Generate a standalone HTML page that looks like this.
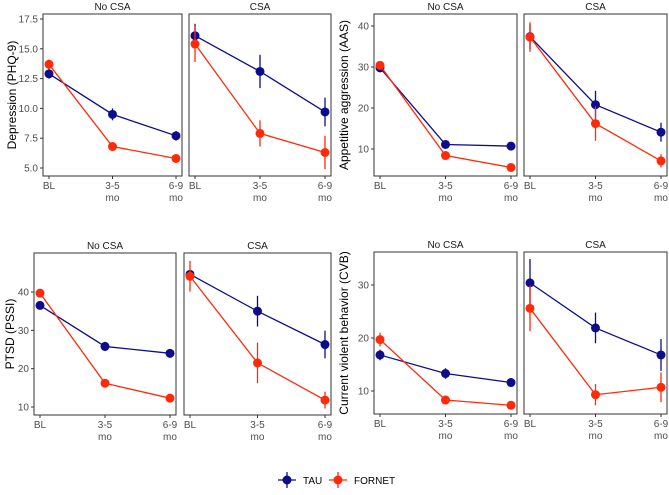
<!DOCTYPE html>
<html><head><meta charset="utf-8"><style>
body{margin:0;background:#fff;}
svg{font-family:"Liberation Sans",sans-serif;}
</style></head><body>
<svg id="s" width="669" height="490"></svg>
<script>
const timepoints=["BL","3-5 mo","6-9 mo"];
const facets=["No CSA","CSA"];
// [chart][facet] values
const tauMean=[[[12.9,9.5,7.7],[16.1,13.1,9.7]],[[29.8,11.1,10.7],[37.4,20.8,14.1]],[[36.5,25.8,24.0],[44.6,35.0,26.3]],[[16.8,13.3,11.6],[30.4,21.9,16.8]]];
const tauErr=[[[0.4,0.5,0.4],[1.0,1.4,1.2]],[[0.6,0.5,0.5],[3.0,3.4,2.3]],[[0.8,1.2,1.1],[0.8,4.0,3.6]],[[1.0,1.0,0.8],[4.5,2.9,3.0]]];
const fornetMean=[[[13.7,6.8,5.8],[15.4,7.9,6.3]],[[30.4,8.4,5.5],[37.3,16.2,7.1]],[[39.7,16.2,12.3],[44.1,21.5,11.8]],[[19.7,8.3,7.3],[25.6,9.3,10.7]]];
const fornetErr=[[[0.4,0.3,0.2],[1.5,1.1,1.4]],[[0.6,0.5,0.4],[3.6,4.2,1.6]],[[0.6,0.6,0.6],[4.0,5.3,2.2]],[[1.3,0.5,0.4],[4.3,2.0,2.8]]];
const yTicks=[[5,7.5,10,12.5,15,17.5],[10,20,30,40],[10,20,30,40],[10,20,30]];
const yTickLabels=[["5.0","7.5","10.0","12.5","15.0","17.5"],["10","20","30","40"],["10","20","30","40"],["10","20","30"]];
const yTitles=["Depression (PHQ-9)","Appetitive aggression (AAS)","PTSD (PSSI)","Current violent behavior (CVB)"];
const chartNames=["depression","aggression","ptsd","violence"];
// layout
const L=[
 {p:[[43,182],[189,331]],top:14,bot:176,v0:5,y0:168,v1:17.5,y1:19,tx:12},
 {p:[[374,517],[524,667]],top:14,bot:176,v0:10,y0:149,v1:40,y1:26,tx:344},
 {p:[[34,176],[184,331]],top:253,bot:415,v0:10,y0:407,v1:40,y1:292,tx:10},
 {p:[[374,517],[524,667]],top:252,bot:414,v0:10,y0:391,v1:30,y1:285,tx:344}
];
const NS="http://www.w3.org/2000/svg";
const svg=document.getElementById('s');
function mk(t,a,par){const e=document.createElementNS(NS,t);for(const k in a)e.setAttribute(k,a[k]);(par||svg).appendChild(e);return e;}
const TAU="#0d0d8c",FOR="#ff2a0a";
for(let c=0;c<4;c++){
 const g=L[c];
 const yS=v=>g.y0+(v-g.v0)*(g.y1-g.y0)/(g.v1-g.v0);
 const grp=mk('g',{});
 
 
 const tt=mk('text',{x:g.tx,y:(g.top+g.bot)/2,'font-size':12,fill:'#000','text-anchor':'middle',transform:`rotate(-90 ${g.tx} ${(g.top+g.bot)/2})`,'dominant-baseline':'central'},grp);
 tt.textContent=yTitles[c];
 
 
 for(let f=0;f<2;f++){
  const [x0,x1]=g.p[f];
  const xS=i=>x0+6+i*(x1-x0-12)/2;
  const st=mk('text',{x:(x0+x1)/2,y:g.top-4,'font-size':10,fill:'#1a1a1a','text-anchor':'middle'},grp);
  st.textContent=facets[f];
  
  
  const r=mk('rect',{x:x0,y:g.top,width:x1-x0,height:g.bot-g.top,fill:'none',stroke:'#333','stroke-width':1},grp);
  
  
  if(f===0){
   yTicks[c].forEach((v,i)=>{
    const y=yS(v);
    mk('line',{x1:x0-3,x2:x0,y1:y,y2:y,stroke:'#333'},grp);
    const t=mk('text',{x:x0-5,y:y+3.5,'font-size':10,fill:'#4d4d4d','text-anchor':'end'},grp);
    t.textContent=yTickLabels[c][i];
    
    
   });
  }
  timepoints.forEach((tp,i)=>{
   const x=xS(i);
   mk('line',{x1:x,x2:x,y1:g.bot,y2:g.bot+3,stroke:'#333'},grp);
   const parts=tp.split(' ');
   parts.forEach((p,j)=>{
    const t=mk('text',{x:x,y:g.bot+13+j*12,'font-size':10,fill:'#4d4d4d','text-anchor':'middle'},grp);
    t.textContent=p;
    
    
   });
  });
  [[tauMean,tauErr,TAU,'tau'],[fornetMean,fornetErr,FOR,'fornet']].forEach(([M,E,col,nm])=>{
   const m=M[c][f],e=E[c][f];
   const pl=mk('polyline',{points:m.map((v,i)=>xS(i)+','+yS(v)).join(' '),fill:'none',stroke:col,'stroke-width':1.3},grp);
   
   
   m.forEach((v,i)=>{
    const x=xS(i);
    mk('line',{x1:x,x2:x,y1:yS(v-e[i]),y2:yS(v+e[i]),stroke:col,'stroke-width':1.3},grp);
    const pt=mk('circle',{cx:x,cy:yS(v),r:4.5,fill:col},grp);
    
    
   });
  });
 }
}
const lg=mk('g',{});


[[TAU,'TAU',287],[FOR,'FORNET',338]].forEach(([col,lab,x])=>{
 const e=mk('g',{},lg);
 
 
 mk('line',{x1:x-9,x2:x+9,y1:480,y2:480,stroke:col,'stroke-width':1.3},e);
 mk('line',{x1:x,x2:x,y1:472,y2:488,stroke:col,'stroke-width':1.3},e);
 mk('circle',{cx:x,cy:480,r:4.5,fill:col},e);
 const t=mk('text',{x:x+16,y:484,'font-size':10,fill:'#000'},e);
 t.textContent=lab;
});
</script>
</body></html>
